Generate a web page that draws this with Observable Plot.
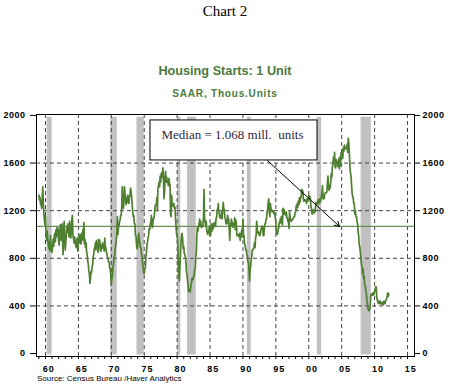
<!DOCTYPE html>
<html>
<head>
<meta charset="utf-8">
<script src="https://cdn.jsdelivr.net/npm/d3@7"></script>
<script src="https://cdn.jsdelivr.net/npm/@observablehq/plot@0.6"></script>
<style>
  body { margin: 0; background: #fff; width: 457px; height: 392px; overflow: hidden; }
  #header { position: relative; height: 100px; }
  #header div { position: absolute; left: 0; width: 450px; text-align: center; white-space: nowrap; }
  #t0 { top: 4px; font: 15px/15px "Liberation Serif", "Times New Roman", serif; color: #000; }
  #t1 { top: 65px; font: bold 12.7px/12.7px Arial, "Liberation Sans", sans-serif; color: #4a7a3c; }
  #t2 { top: 89px; font: bold 10px/10px Arial, "Liberation Sans", sans-serif; color: #4a7a3c; letter-spacing: 0.8px; }
  #chart svg { display: block; }
  #source { padding-left: 37px; font: 8px/10px Arial, "Liberation Sans", sans-serif; color: #000; white-space: nowrap; }
  g[aria-label="y-axis tick label"] text { letter-spacing: 0.5px; }
  g[aria-label="x-axis tick label"] text { letter-spacing: 1px; }
</style>
</head>
<body>
<div id="header">
  <div id="t0">Chart 2</div>
  <div id="t1">Housing Starts: 1 Unit</div>
  <div id="t2">SAAR, Thous.Units</div>
</div>
<div id="chart"></div>
<div id="source">Source: Census Bureau /Haver Analytics</div>
<script>
// ---- data (monthly, SAAR, thousands of units), first month = Jan 1959 ----
const firstYear = 1959;
const starts1959 = [1330,1290,1310,1250,1280,1220,1300,1400,1260,1180,1120,1080];
const starts1960s = [
  1150,1010,950,1030,960,920,880,940,860,990,890,870,
  850,920,960,900,990,1010,940,1040,980,1060,990,1050,
  940,910,1020,1080,990,950,1090,1000,830,1010,1110,960,
  870,930,1010,1070,1020,1090,1010,980,1110,1040,970,1020,
  1120,1160,990,970,930,980,940,910,890,950,970,860,
  950,990,930,1000,950,920,1010,960,1040,950,1100,920,
  960,890,930,850,830,780,750,690,670,590,630,690,
  680,730,750,810,840,880,890,930,870,950,890,900,
  850,960,910,950,870,860,910,880,930,900,910,860,
  970,890,890,850,840,810,800,770,770,720,710,660
];
const starts1970s = [
  580,630,650,730,750,800,820,880,910,950,1000,1150,
  1000,1060,1070,1110,1120,1160,1160,1230,1400,1240,1220,1270,
  1400,1340,1300,1250,1310,1270,1330,1280,1260,1320,1320,1390,
  1360,1320,1250,1190,1150,1160,1090,1090,990,990,910,880,
  900,960,1010,950,930,890,890,840,810,750,730,680,
  670,710,720,810,850,910,940,970,990,1050,1040,1090,
  1100,1160,1070,1060,1110,1140,1140,1190,1240,1250,1250,1310,
  1200,1390,1410,1440,1400,1490,1440,1510,1520,1480,1560,1490,
  1300,1360,1470,1530,1440,1480,1440,1440,1410,1470,1430,1420,
  1170,1150,1330,1250,1240,1250,1260,1220,1230,1140,1070,1000
];
const starts1980s = [
  990,940,800,680,610,730,810,940,990,1010,970,880,
  900,840,830,810,770,690,660,610,570,520,540,530,
  520,570,590,630,630,620,650,650,710,710,810,850,
  1000,1060,1030,1070,1090,1130,1070,1110,1060,1060,1070,1070,
  1140,1380,1140,1110,1070,1110,1030,1010,1000,1030,1040,1070,
  990,990,1090,1070,1030,1090,1050,1080,1100,1100,1070,1140,
  1140,1210,1200,1260,1190,1170,1140,1150,1140,1190,1130,1210,
  1270,1220,1200,1150,1130,1090,1120,1090,1160,1130,1130,1040,
  950,1090,1090,1130,1070,1100,1060,1090,1080,1140,1040,1120,
  1090,990,1000,1000,990,980,1010,950,980,1010,1040,980
];
const starts1990s = [
  1130,990,990,910,910,870,870,830,820,770,770,710,
  610,700,730,790,810,870,870,880,890,930,890,970,
  990,1110,1050,1010,1010,1020,990,990,1010,1050,1050,1070,
  1060,990,990,1050,1090,1090,1130,1130,1190,1210,1270,1300,
  1190,1150,1260,1220,1210,1190,1190,1200,1200,1170,1180,1140,
  1110,1010,1000,1000,1040,1050,1100,1090,1130,1100,1150,1120,
  1080,1220,1170,1210,1170,1170,1160,1190,1140,1140,1110,1110,
  1050,1190,1140,1130,1110,1120,1120,1130,1140,1150,1150,1180,
  1190,1240,1210,1260,1230,1280,1250,1310,1270,1310,1310,1380,
  1370,1370,1310,1280,1290,1290,1280,1290,1260,1300,1290,1290
];
const starts2000s = [
  1330,1300,1320,1300,1230,1220,1170,1200,1190,1210,1180,1190,
  1200,1270,1250,1260,1260,1290,1260,1300,1270,1270,1290,1320,
  1350,1410,1300,1300,1300,1340,1350,1350,1350,1360,1430,1490,
  1400,1370,1410,1390,1440,1510,1480,1560,1590,1650,1610,1690,
  1570,1560,1630,1610,1610,1570,1610,1640,1550,1650,1580,1690,
  1670,1710,1640,1730,1700,1750,1720,1730,1730,1720,1760,1690,
  1810,1770,1680,1570,1520,1490,1420,1350,1320,1310,1260,1260,
  1170,1200,1150,1150,1110,1090,1020,990,910,900,850,810,
  750,730,670,710,630,650,570,570,530,510,440,420,
  370,370,360,370,400,480,500,490,500,510,490,500
];
const starts2010s = [
  520,540,560,560,470,450,430,420,440,420,440,430,
  420,410,430,420,410,440,430,420,440,450,460,480,
  510,480,500
];
const medianValue = 1068;

// NBER recessions (start, end) in fractional years
const recessionStarts = [1960.25, 1969.92, 1973.9, 1980.08, 1981.58, 1990.67, 2001.3, 2007.95];
const recessionEnds   = [1961.0, 1970.9, 1975.0, 1980.55, 1982.9, 1991.25, 2001.95, 2009.5];

// axis ticks and labels
const yTicks = [0, 400, 800, 1200, 1600, 2000];
const yGrid = [400, 800, 1200, 1600];
const xTickYears = [1960, 1965, 1970, 1975, 1980, 1985, 1990, 1995, 2000, 2005, 2010, 2015];
const xTickLabels = ["60", "65", "70", "75", "80", "85", "90", "95", "00", "05", "10", "15"];

// annotation
const noteText = "Median = 1.068 mill.\u00a0 units";
const noteBox = [{x1: 1975.95, x2: 2001.33, y1: 1622, y2: 1958}];
const noteArrow = [{x1: 1993.7, y1: 1622, x2: 2004.67, y2: medianValue}];

// ---- build table ----
const allValues = [].concat(starts1959, starts1960s, starts1970s, starts1980s, starts1990s, starts2000s, starts2010s);
const series = allValues.map((v, i) => ({date: firstYear + i / 12, value: v}));
const recessions = recessionStarts.map((s, i) => ({start: s, end: recessionEnds[i]}));
const minorYears = d3.range(1959, 2016);
const labelPositions = xTickYears.map(y => y + 0.5);

const green = "#4f7f30";

const chart = Plot.plot({
  width: 457,
  height: 274,
  marginTop: 14,
  marginBottom: 18,
  marginLeft: 36,
  marginRight: 43,
  x: {domain: [1958.633, 2016.064]},
  y: {domain: [-25, 2008]},
  style: {
    fontFamily: "Arial, 'Liberation Sans', sans-serif",
    fontSize: "9px",
    fontWeight: "bold",
    color: "#000",
    background: "#fff",
    overflow: "visible"
  },
  marks: [
    Plot.rect(recessions, {x1: "start", x2: "end", y1: () => -12, y2: () => 1985, fill: "#c0c0c0"}),
    Plot.ruleY(yGrid, {stroke: "#444", strokeWidth: 1, strokeDasharray: "4,3"}),
    Plot.ruleX(xTickYears, {stroke: "#444", strokeWidth: 1, strokeDasharray: "4,3"}),
    Plot.ruleY([medianValue], {stroke: "#6a9256", strokeWidth: 1.2}),
    Plot.lineY(series, {x: "date", y: "value", stroke: green, strokeWidth: 1.7}),
    Plot.rect(noteBox, {x1: "x1", x2: "x2", y1: "y1", y2: "y2", fill: "#fff", stroke: "#000", strokeWidth: 1}),
    Plot.text(noteBox, {x: "x1", y: "y2", text: () => noteText, textAnchor: "start", lineAnchor: "middle",
      dx: 11, dy: 14, fontFamily: "'Liberation Serif', 'Times New Roman', serif", fontSize: 13, fontWeight: "normal", fill: "#2e1f40"}),
    Plot.arrow(noteArrow, {x1: "x1", y1: "y1", x2: "x2", y2: "y2", stroke: "#000", strokeWidth: 1, headLength: 8}),
    Plot.frame({stroke: "#000", strokeWidth: 1}),
    Plot.axisY(yTicks, {anchor: "left", tickSize: 6, tickPadding: 5, label: null, tickFormat: d => String(d)}),
    Plot.axisY(yTicks, {anchor: "right", tickSize: 5, tickPadding: 3, label: null, tickFormat: d => String(d)}),
    Plot.axisX(minorYears, {anchor: "bottom", tickSize: 3, tickFormat: () => "", label: null}),
    Plot.axisX(labelPositions, {anchor: "bottom", tickSize: 0, tickPadding: 9, label: null,
      tickFormat: d => xTickLabels[xTickYears.indexOf(Math.floor(d))]})
  ]
});
document.getElementById("chart").appendChild(chart);
</script>
</body>
</html>
